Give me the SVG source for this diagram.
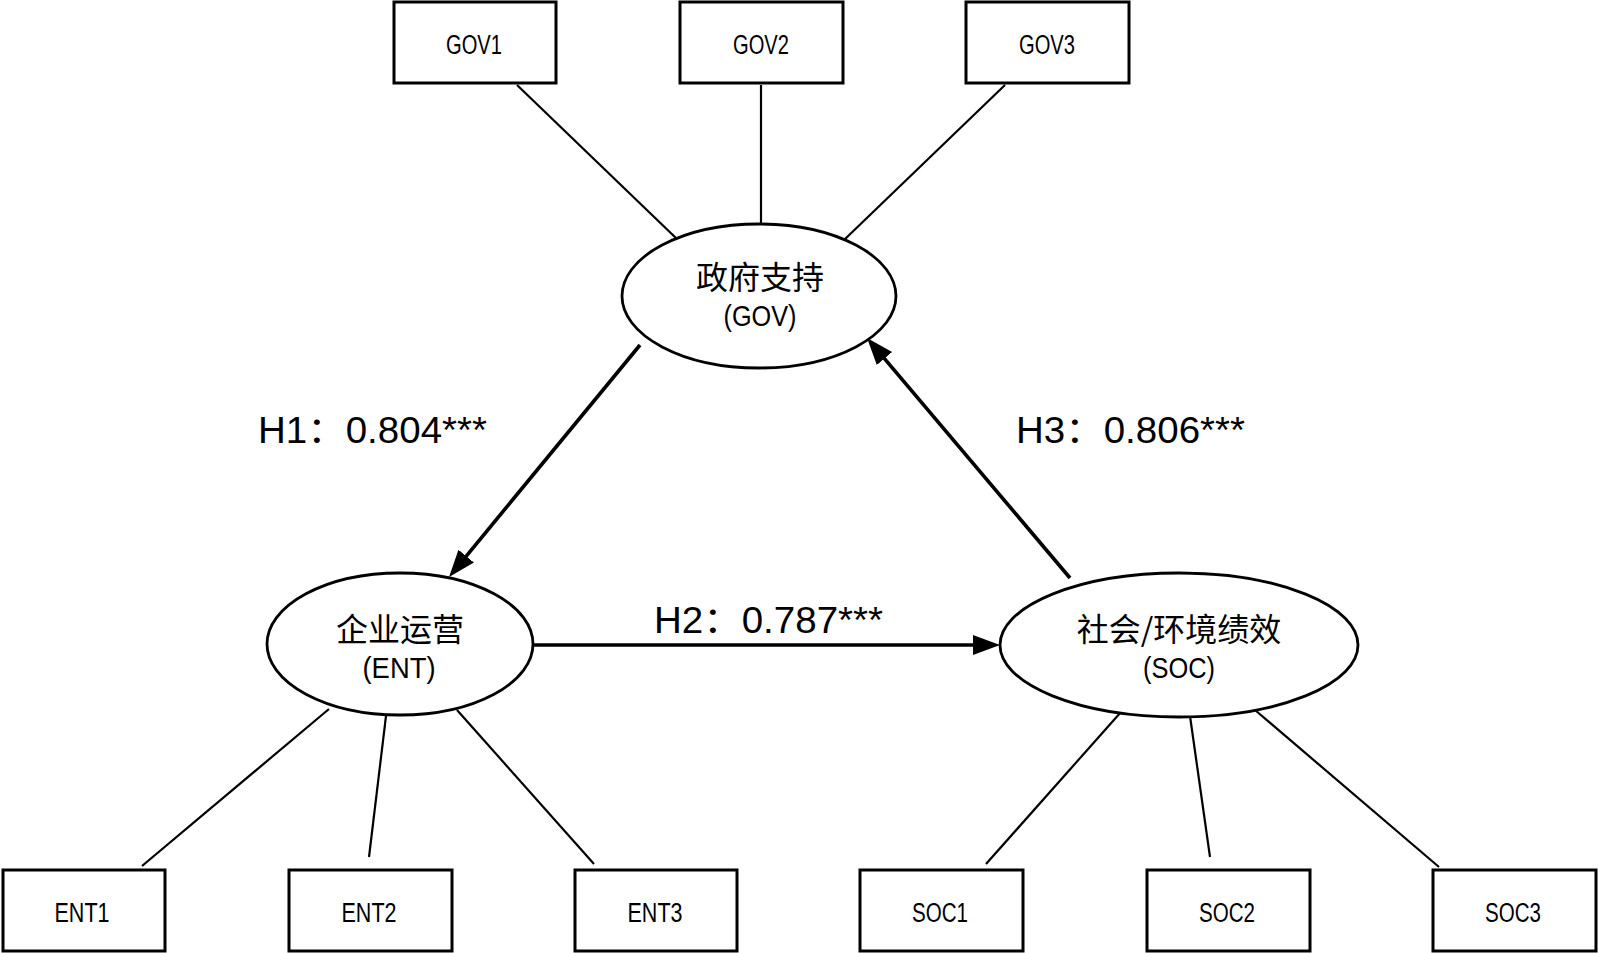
<svg xmlns="http://www.w3.org/2000/svg" width="1598" height="953" viewBox="0 0 1598 953">
  <style>
    .box { fill: #fff; stroke: #000; stroke-width: 3; }
    .ell { fill: #fff; stroke: #000; stroke-width: 2.8; }
    .ind { stroke: #000; stroke-width: 2.2; fill: none; }
    .arr { stroke: #000; stroke-width: 3.6; fill: none; marker-end: url(#ah); }
    .lat { font-family: "Liberation Sans", "Noto Sans CJK SC", sans-serif; fill: #000; text-anchor: middle; }
    .cjk { font-family: "Noto Sans CJK SC", "Noto Sans", sans-serif; fill: #000; text-anchor: middle; font-size: 32px; }
    .bl { font-size: 27px; }
    .el { font-size: 30px; }
    .hl { font-family: "Liberation Sans", "Noto Sans CJK SC", sans-serif; fill: #000; font-size: 36px; }
  </style>
  <defs>
    <marker id="ah" markerUnits="userSpaceOnUse" markerWidth="28" markerHeight="22" viewBox="0 0 28 22" refX="17" refY="11" orient="auto">
      <path d="M0,1 L27,11 L0,21 z" fill="#000"/>
    </marker>
  </defs>
  <rect x="0" y="0" width="1598" height="953" fill="#fff"/>

  <g id="connectors">
    <line class="ind" x1="517" y1="85" x2="677" y2="239"/>
    <line class="ind" x1="761" y1="85" x2="761" y2="223"/>
    <line class="ind" x1="1005" y1="85" x2="844" y2="240"/>
    <line class="ind" x1="329" y1="709" x2="142" y2="866"/>
    <line class="ind" x1="386" y1="716" x2="369" y2="857"/>
    <line class="ind" x1="457" y1="710" x2="594" y2="864"/>
    <line class="ind" x1="1121" y1="712" x2="986" y2="864"/>
    <line class="ind" x1="1190" y1="716" x2="1210" y2="857"/>
    <line class="ind" x1="1255" y1="710" x2="1439" y2="867"/>
    <line class="arr" x1="640" y1="345" x2="455.4" y2="569.3"/>
    <line class="arr" x1="533" y1="645" x2="990" y2="645"/>
    <line class="arr" x1="1070" y1="578" x2="873.5" y2="345.6"/>
  </g>

  <g id="label-H1"><text class="hl" x="258" y="443" textLength="229" lengthAdjust="spacingAndGlyphs">H1：0.804***</text></g>
  <g id="label-H2"><text class="hl" x="654" y="633" textLength="229" lengthAdjust="spacingAndGlyphs">H2：0.787***</text></g>
  <g id="label-H3"><text class="hl" x="1016" y="443" textLength="229" lengthAdjust="spacingAndGlyphs">H3：0.806***</text></g>

  <g id="node-GOV">
    <ellipse class="ell" cx="759" cy="296" rx="137" ry="72"/>
    <text class="cjk" x="760" y="289">政府支持</text>
    <text class="lat el" x="760" y="326" textLength="73" lengthAdjust="spacingAndGlyphs">(GOV)</text>
  </g>
  <g id="node-ENT">
    <ellipse class="ell" cx="400" cy="644" rx="133" ry="71"/>
    <text class="cjk" x="400" y="641">企业运营</text>
    <text class="lat el" x="399" y="678" textLength="73" lengthAdjust="spacingAndGlyphs">(ENT)</text>
  </g>
  <g id="node-SOC">
    <ellipse class="ell" cx="1179" cy="645" rx="179" ry="72"/>
    <text class="cjk" x="1179" y="641">社会/环境绩效</text>
    <text class="lat el" x="1179" y="678" textLength="72" lengthAdjust="spacingAndGlyphs">(SOC)</text>
  </g>

  <g id="node-GOV1"><rect class="box" x="394" y="2" width="162" height="81"/><text class="lat bl" x="474" y="54" textLength="56" lengthAdjust="spacingAndGlyphs">GOV1</text></g>
  <g id="node-GOV2"><rect class="box" x="680" y="2" width="163" height="81"/><text class="lat bl" x="761" y="54" textLength="56" lengthAdjust="spacingAndGlyphs">GOV2</text></g>
  <g id="node-GOV3"><rect class="box" x="966" y="2" width="163" height="81"/><text class="lat bl" x="1047" y="54" textLength="56" lengthAdjust="spacingAndGlyphs">GOV3</text></g>

  <g id="node-ENT1"><rect class="box" x="3" y="870" width="162" height="81"/><text class="lat bl" x="82" y="922" textLength="55" lengthAdjust="spacingAndGlyphs">ENT1</text></g>
  <g id="node-ENT2"><rect class="box" x="289" y="870" width="163" height="81"/><text class="lat bl" x="369" y="922" textLength="55" lengthAdjust="spacingAndGlyphs">ENT2</text></g>
  <g id="node-ENT3"><rect class="box" x="575" y="870" width="162" height="81"/><text class="lat bl" x="655" y="922" textLength="55" lengthAdjust="spacingAndGlyphs">ENT3</text></g>

  <g id="node-SOC1"><rect class="box" x="860" y="870" width="163" height="81"/><text class="lat bl" x="940" y="922" textLength="56" lengthAdjust="spacingAndGlyphs">SOC1</text></g>
  <g id="node-SOC2"><rect class="box" x="1147" y="870" width="163" height="81"/><text class="lat bl" x="1227" y="922" textLength="56" lengthAdjust="spacingAndGlyphs">SOC2</text></g>
  <g id="node-SOC3"><rect class="box" x="1433" y="870" width="163" height="81"/><text class="lat bl" x="1513" y="922" textLength="56" lengthAdjust="spacingAndGlyphs">SOC3</text></g>
</svg>
